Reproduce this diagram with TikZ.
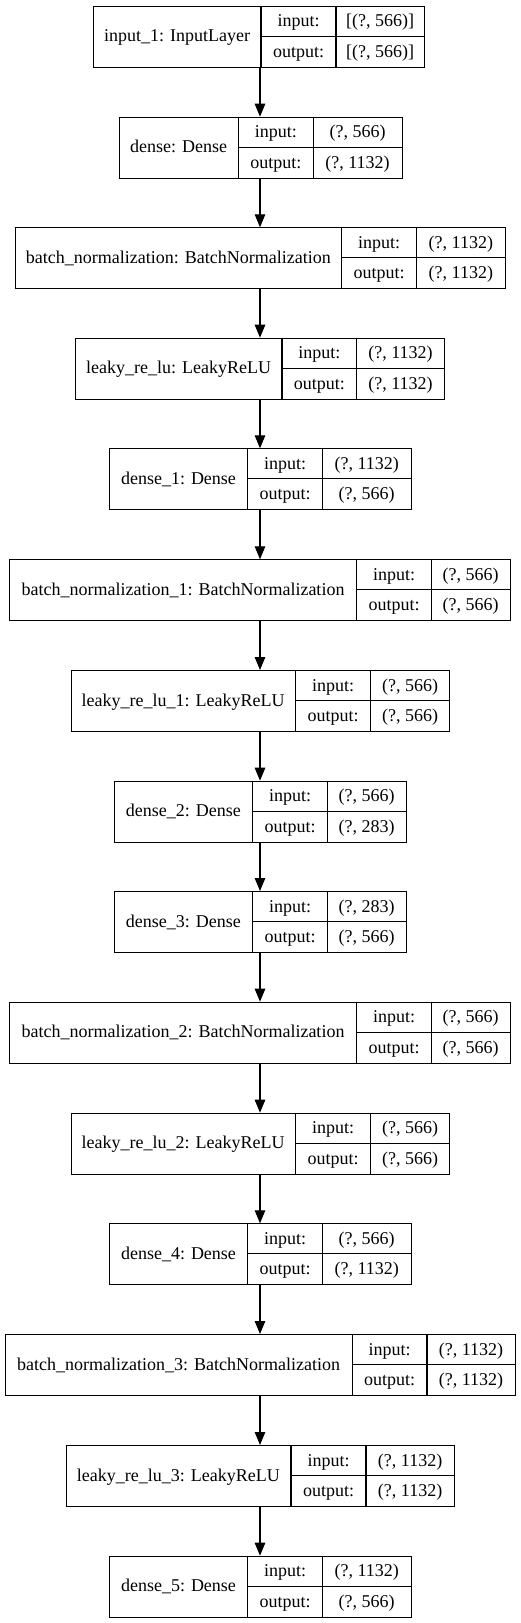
\documentclass[tikz,border=0pt]{standalone}
\usepackage{fontspec}
\setmainfont{Liberation Serif}
\usetikzlibrary{arrows.meta}
\tikzset{
  box/.style={draw=black, line width=1.1pt, minimum height=61pt, inner sep=0pt, fill=white},
  cell/.style={draw=black, line width=1.1pt},
  txt/.style={anchor=base, inner sep=0pt, font=\fontsize{18}{20}\selectfont},
  arr/.style={draw=black, line width=1.1pt, -{Triangle[length=13pt,width=10.5pt]}}
}
% #1 name, #2 left, #3 right, #4 div1, #5 div2, #6 top, #7 label, #8 input, #9 output
\newcommand\mylayer[9]{%
  \pgfmathsetmacro\mylw{#3-#2}%
  \node[box, minimum width=\mylw pt, anchor=north west] (#1) at (#2,#6) {};
  \draw[cell] (#4,#6) -- (#4,{#6+61});
  \draw[cell] (#5,#6) -- (#5,{#6+61});
  \draw[cell] (#4,{#6+30.5}) -- (#3,{#6+30.5});
  \node[txt] (#1-l) at ({(#2+#4)/2},{#6+36}) {#7};
  \node[txt] (#1-i) at ({(#4+#5)/2},{#6+21}) {input:};
  \node[txt] (#1-iv) at ({(#5+#3)/2},{#6+21}) {#8};
  \node[txt] (#1-o) at ({(#4+#5)/2},{#6+51.5}) {output:};
  \node[txt] (#1-ov) at ({(#5+#3)/2},{#6+51.5}) {#9};
}
\begin{document}
\begin{tikzpicture}[x=1pt,y=-1pt]
\useasboundingbox[fill=white] (0,0) rectangle (520,1623);
\coordinate (ax) at (260,0);
\mylayer{b1}{93.3}{424.3}{261}{336}{5.7}{input\_1: InputLayer}{[(?, 566)]}{[(?, 566)]}
\mylayer{b2}{119}{401.7}{238.3}{313.3}{116.7}{dense: Dense}{(?, 566)}{(?, 1132)}
\mylayer{b3}{15}{505}{341.7}{416.7}{227.3}{batch\_normalization: BatchNormalization}{(?, 1132)}{(?, 1132)}
\mylayer{b4}{75.3}{444.3}{282}{356.7}{337.7}{leaky\_re\_lu: LeakyReLU}{(?, 1132)}{(?, 1132)}
\mylayer{b5}{109.3}{410.7}{247.7}{322.7}{448.3}{dense\_1: Dense}{(?, 1132)}{(?, 566)}
\mylayer{b6}{9.3}{510}{356.7}{431.3}{559.3}{batch\_normalization\_1: BatchNormalization}{(?, 566)}{(?, 566)}
\mylayer{b7}{70.7}{449.3}{295.7}{370.7}{670}{leaky\_re\_lu\_1: LeakyReLU}{(?, 566)}{(?, 566)}
\mylayer{b8}{114}{406}{252.7}{327.3}{780.7}{dense\_2: Dense}{(?, 566)}{(?, 283)}
\mylayer{b9}{114}{406}{252.7}{327.3}{891}{dense\_3: Dense}{(?, 283)}{(?, 566)}
\mylayer{b10}{9.3}{510}{356.7}{431.3}{1001.7}{batch\_normalization\_2: BatchNormalization}{(?, 566)}{(?, 566)}
\mylayer{b11}{70.7}{449.3}{295.7}{370.7}{1112.7}{leaky\_re\_lu\_2: LeakyReLU}{(?, 566)}{(?, 566)}
\mylayer{b12}{109.3}{410.7}{247.7}{322.7}{1223.3}{dense\_4: Dense}{(?, 566)}{(?, 1132)}
\mylayer{b13}{5}{515}{352.3}{427}{1334}{batch\_normalization\_3: BatchNormalization}{(?, 1132)}{(?, 1132)}
\mylayer{b14}{65.7}{454.3}{291}{366}{1445}{leaky\_re\_lu\_3: LeakyReLU}{(?, 1132)}{(?, 1132)}
\mylayer{b15}{109.3}{410.7}{247.7}{322.7}{1555.7}{dense\_5: Dense}{(?, 1132)}{(?, 566)}
\foreach \a/\b in {b1/b2,b2/b3,b3/b4,b4/b5,b5/b6,b6/b7,b7/b8,b8/b9,b9/b10,b10/b11,b11/b12,b12/b13,b13/b14,b14/b15}{
  \draw[arr] (\a.south -| ax) -- (\b.north -| ax);
}
\end{tikzpicture}
\end{document}
